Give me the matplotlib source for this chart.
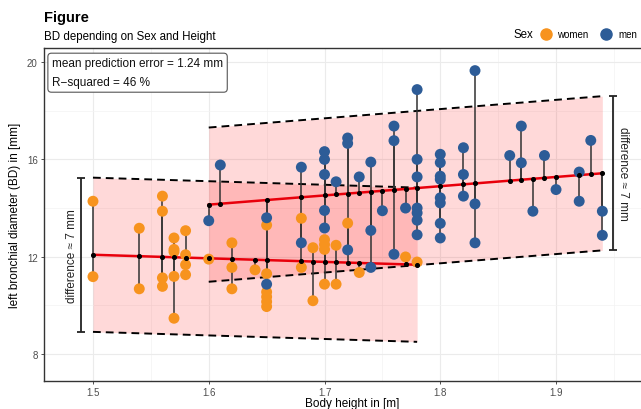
import numpy as np
import matplotlib
matplotlib.use("Agg")
import matplotlib.pyplot as plt
from matplotlib.lines import Line2D

plt.rcParams['font.family'] = ['Liberation Sans', 'DejaVu Sans']

# women: body height [m] and left bronchial diameter [mm]
women_height = [1.50, 1.50,
                1.54, 1.54,
                1.56, 1.56, 1.56, 1.56,
                1.57, 1.57, 1.57, 1.57, 1.57,
                1.58, 1.58, 1.58, 1.58,
                1.60,
                1.62, 1.62, 1.62,
                1.64,
                1.65, 1.65, 1.65, 1.65, 1.65, 1.65,
                1.68, 1.68,
                1.69, 1.69,
                1.70, 1.70, 1.70, 1.70,
                1.71, 1.71,
                1.72, 1.73, 1.77, 1.78]
women_bd = [14.28, 11.18,
            13.17, 10.68,
            14.49, 13.87, 11.13, 10.78,
            12.77, 12.30, 12.20, 11.19, 9.47,
            13.07, 12.08, 11.67, 11.26,
            11.90,
            12.57, 11.56, 10.68,
            11.46,
            13.30, 11.30, 10.55, 10.35, 10.15, 9.95,
            13.58, 11.56,
            12.37, 10.19,
            12.70, 12.50, 12.30, 10.87,
            12.47, 10.87,
            13.38, 11.35, 11.99, 11.78]

# men
men_height = [1.60, 1.61,
              1.65, 1.65,
              1.68, 1.68,
              1.70, 1.70, 1.70, 1.70, 1.70,
              1.71,
              1.72, 1.72, 1.72,
              1.73,
              1.74, 1.74, 1.74,
              1.75,
              1.76, 1.76, 1.76,
              1.77,
              1.78, 1.78, 1.78, 1.78, 1.78, 1.78, 1.78,
              1.80, 1.80, 1.80, 1.80, 1.80, 1.80, 1.80, 1.80,
              1.82, 1.82, 1.82,
              1.83, 1.83, 1.83,
              1.86, 1.87, 1.87, 1.88, 1.89, 1.90,
              1.92, 1.92, 1.93, 1.94, 1.94]
men_bd = [13.48, 15.77,
          13.60, 10.87,
          15.68, 12.57,
          16.32, 16.00, 15.38, 13.90, 13.18,
          15.08,
          16.88, 16.66, 12.28,
          15.28,
          15.89, 13.08, 11.56,
          13.89,
          17.37, 16.77, 12.10,
          14.00,
          18.87, 16.00, 15.28, 14.00, 13.80, 13.50, 12.90,
          16.21, 15.87, 15.31, 15.18, 14.42, 14.21, 13.37, 12.77,
          16.48, 15.38, 14.49,
          19.65, 14.17, 12.57,
          16.16, 17.37, 15.86, 13.87, 16.16, 14.76,
          15.48, 14.28, 16.78, 13.87, 12.88]

# fitted lines (read at the ends of each red line) and band half width
women_fit_x = [1.50, 1.78]
women_fit_y = [12.08, 11.67]
men_fit_x = [1.60, 1.94]
men_fit_y = [14.14, 15.43]
band_half = 3.17

women_col = '#f7931e'
men_col = '#2d5c97'

fig = plt.figure(figsize=(6.41, 4.10), dpi=100)
ax = fig.add_axes([44 / 641, 28 / 410, 616 / 641, 333 / 410])

ax.set_xlim(1.4577, 1.9898)
ax.set_ylim(6.89, 20.58)

groups = [(women_height, women_bd, women_fit_x, women_fit_y, women_col),
          (men_height, men_bd, men_fit_x, men_fit_y, men_col)]

# bands
for hx, by, fx, fy, col in groups:
    coef = np.polyfit(fx, fy, 1)
    xs = np.array(fx)
    ys = np.polyval(coef, xs)
    ax.fill_between(xs, ys - band_half, ys + band_half, color='red', alpha=0.15, lw=0, zorder=1)
    ax.plot(xs, ys + band_half, color='black', ls=(0, (4, 2.6)), lw=1.4, zorder=2)
    ax.plot(xs, ys - band_half, color='black', ls=(0, (4, 2.6)), lw=1.4, zorder=2)

# residuals, points, fit
for hx, by, fx, fy, col in groups:
    coef = np.polyfit(fx, fy, 1)
    hx = np.array(hx)
    by = np.array(by)
    pred = np.polyval(coef, hx)
    ax.vlines(hx, pred, by, color='#333333', lw=1.3, alpha=0.85, zorder=3)
    ax.plot(fx, np.polyval(coef, np.array(fx)), color='#e8000b', lw=1.8, zorder=4)
    ax.scatter(hx, by, s=62, color=col, edgecolors='none', zorder=5)
    ux = np.unique(hx)
    ax.scatter(ux, np.polyval(coef, ux), s=7, color='black', zorder=6)

# difference brackets
wc = np.polyfit(women_fit_x, women_fit_y, 1)
mc = np.polyfit(men_fit_x, men_fit_y, 1)
wl = np.polyval(wc, 1.5)
ml = np.polyval(mc, 1.94)
ax.errorbar([1.4897], [wl], yerr=[[band_half]], color='#222222', lw=1.3, capsize=3, capthick=1.3, zorder=3)
ax.errorbar([1.9488], [ml], yerr=[[band_half]], color='#222222', lw=1.3, capsize=3, capthick=1.3, zorder=3)
ax.text(1.4815, wl, 'difference \u2248 7 mm', rotation=90, ha='center', va='center', fontsize=8.5, color='#222222')
ax.text(1.9575, ml, 'difference \u2248 7 mm', rotation=270, ha='center', va='center', fontsize=8.5, color='#222222')

# stats box
ax.text(0.013, 0.972, 'mean prediction error = 1.24 mm\nR\u2212squared = 46 %', transform=ax.transAxes,
        ha='left', va='top', fontsize=8.5, linespacing=1.75, color='#111111', zorder=7,
        bbox=dict(boxstyle='round,pad=0.35,rounding_size=0.3', fc='white', ec='#555555', lw=0.8))

# grid and axes style
ax.set_xticks([1.5, 1.6, 1.7, 1.8, 1.9])
ax.set_xticklabels(['1.5', '1.6', '1.7', '1.8', '1.9'])
ax.set_xticks([1.55, 1.65, 1.75, 1.85, 1.95], minor=True)
ax.set_yticks([8, 12, 16, 20])
ax.set_yticks([10, 14, 18], minor=True)
ax.grid(which='major', color='#ebebeb', lw=0.8, zorder=0)
ax.grid(which='minor', color='#f3f3f3', lw=0.5, zorder=0)
ax.set_axisbelow(True)
ax.tick_params(which='major', length=2.5, width=0.6, color='#333333', labelsize=7, labelcolor='#4d4d4d', pad=2)
ax.tick_params(which='minor', length=0)
for s in ax.spines.values():
    s.set_color('#333333')
    s.set_linewidth(1.0)

ax.set_xlabel('Body height in [m]', fontsize=8.5, labelpad=0)
ax.set_ylabel('left bronchial diameter (BD) in [mm]', fontsize=8.5, labelpad=4)

fig.text(44 / 641, 1 - 18 / 410, 'Figure', fontsize=10.5, fontweight='bold', va='center', ha='left')
fig.text(44 / 641, 1 - 37 / 410, 'BD depending on Sex and Height', fontsize=8.3, va='center', ha='left')

fig.text(513 / 641, 1 - 35 / 410, 'Sex', fontsize=8.3, va='center', ha='left')
handles = [Line2D([], [], ls='none', marker='o', ms=8, color=women_col),
           Line2D([], [], ls='none', marker='o', ms=8, color=men_col)]
fig.legend(handles, ['women', 'men'], ncol=2, loc='center left', bbox_to_anchor=(540 / 641, 1 - 35 / 410),
           frameon=False, fontsize=7, handletextpad=0.6, columnspacing=1.2, handlelength=1.2,
           borderpad=0, borderaxespad=0)

fig.savefig('out.png', dpi=100)
